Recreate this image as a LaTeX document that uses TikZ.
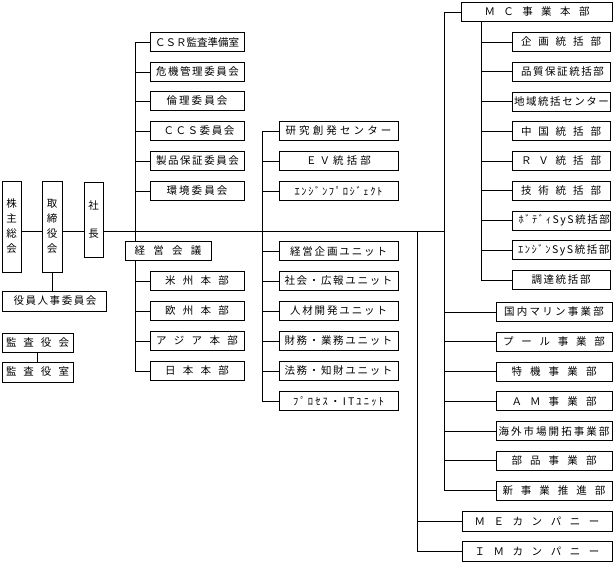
\documentclass[tikz,border=0pt]{standalone}
\usepackage{fontspec}
\setmainfont{Noto Sans CJK JP}
\newcommand\sx[2]{\makebox[#1pt][s]{#2}}
\tikzset{
  bx/.style={draw, line width=1pt, inner sep=0pt, minimum height=19pt, font=\fontsize{10.5}{13}\selectfont},
  lcol/.style={bx, minimum width=94pt},
  mcol/.style={bx, minimum width=119pt},
  scol/.style={bx, minimum width=98pt},
  dcol/.style={bx, minimum width=116pt},
  ln/.style={line width=1pt}
}
\begin{document}
\begin{tikzpicture}[x=1pt,y=-1pt]
\useasboundingbox (0,0) rectangle (614,563);
\coordinate (spine) at (0,231);
\coordinate (vL) at (135,0);
\coordinate (vM) at (262,0);
\coordinate (vR) at (444,0);
\coordinate (vRR) at (417,0);
\coordinate (vMC) at (481,0);

% left part
\node[bx, minimum width=19pt, minimum height=91pt, align=center, font=\fontsize{10.5}{15}\selectfont] (kabu) at (11.5,226.5) {株\\主\\総\\会};
\node[bx, minimum width=20pt, minimum height=91pt, align=center, font=\fontsize{10.5}{15}\selectfont] (tori) at (52,226.5) {取\\締\\役\\会};
\node[bx, minimum width=19pt, minimum height=75pt, align=center, font=\fontsize{10.5}{28}\selectfont] (sha) at (93.5,219.5) {社\\長};
\node[bx, minimum width=104pt, minimum height=20pt] (yakuin) at (54,301) {\sx{81}{役 員 人 事 委 員 会}};
\node[bx, minimum width=71pt] (ka1) at (37.5,342.5) {\sx{63}{監 査 役 会}};
\node[bx, minimum width=71pt, minimum height=20pt] (ka2) at (37.5,372) {\sx{63}{監 査 役 室}};

% committees
\node[lcol] (c1) at (197,42) {ＣＳＲ監査準備室};
\node[lcol] (c2) at (197,72) {\sx{82}{危 機 管 理 委 員 会}};
\node[lcol] (c3) at (197,101) {\sx{61}{倫 理 委 員 会}};
\node[lcol] (c4) at (197,131) {\sx{67}{Ｃ Ｃ Ｓ 委 員 会}};
\node[lcol] (c5) at (197,161) {\sx{82}{製 品 保 証 委 員 会}};
\node[lcol] (c6) at (197,191) {\sx{61}{環 境 委 員 会}};
\node[bx, minimum width=86pt] (keiei) at (168,251) {\sx{67}{経 営 会 議}};
\node[lcol] (r1) at (197,281) {\sx{64}{米 州 本 部}};
\node[lcol] (r2) at (197,311) {\sx{64}{欧 州 本 部}};
\node[lcol] (r3) at (197,341) {\sx{82}{ア ジ ア 本 部}};
\node[lcol] (r4) at (197,371) {\sx{64}{日 本 本 部}};

% middle column
\node[mcol] (m1) at (338.5,131) {\sx{106}{研 究 創 発 セ ン タ ー}};
\node[mcol] (m2) at (338.5,161) {\sx{65}{Ｅ Ｖ 統 括 部}};
\node[mcol] (m3) at (338.5,191) {\sx{88}{ｴ ﾝ ｼ ﾞ ﾝ ﾌ ﾟ ﾛ ｼ ﾞ ｪ ｸ ﾄ}};
\node[mcol] (m4) at (338.5,251) {\sx{97}{経 営 企 画 ユ ニ ッ ト}};
\node[mcol] (m5) at (338.5,281) {\sx{108}{社 会 ・ 広 報 ユ ニ ッ ト}};
\node[mcol] (m6) at (338.5,311) {\sx{97}{人 材 開 発 ユ ニ ッ ト}};
\node[mcol] (m7) at (338.5,341) {\sx{108}{財 務 ・ 業 務 ユ ニ ッ ト}};
\node[mcol] (m8) at (338.5,371) {\sx{108}{法 務 ・ 知 財 ユ ニ ッ ト}};
\node[mcol] (m9) at (338.5,401) {\sx{91}{ﾌ ﾟ ﾛ ｾ ｽ ・ I T ﾕ ﾆ ｯ ﾄ}};

% MC
\node[bx, minimum width=151pt] (mc) at (537,12) {\sx{105}{Ｍ Ｃ 事 業 本 部}};
\node[scol] (s1) at (561,42) {\sx{80}{企 画 統 括 部}};
\node[scol] (s2) at (561,71.75) {\sx{80}{品 質 保 証 統 括 部}};
\node[scol] (s3) at (561,101.5) {\sx{94}{地 域 統 括 セ ン タ ー}};
\node[scol] (s4) at (561,131.25) {\sx{80}{中 国 統 括 部}};
\node[scol] (s5) at (561,161) {\sx{80}{Ｒ Ｖ 統 括 部}};
\node[scol] (s6) at (561,190.75) {\sx{80}{技 術 統 括 部}};
\node[scol] (s7) at (561,220.5) {\sx{85}{ﾎ ﾞ ﾃ ﾞ ｨ S y S 統 括 部}};
\node[scol] (s8) at (561,250.25) {\sx{86}{ｴ ﾝ ｼ ﾞ ﾝ S y S 統 括 部}};
\node[scol] (s9) at (561,280) {\sx{59}{調 達 統 括 部}};

% divisions
\node[dcol] (d1) at (554,312) {\sx{100}{国 内 マ リ ン 事 業 部}};
\node[dcol] (d2) at (554,341.75) {\sx{102}{プ ー ル 事 業 部}};
\node[dcol] (d3) at (554,371.5) {\sx{85}{特 機 事 業 部}};
\node[dcol] (d4) at (554,401.25) {\sx{85}{Ａ Ｍ 事 業 部}};
\node[dcol] (d5) at (554,431) {\sx{111}{海 外 市 場 開 拓 事 業 部}};
\node[dcol] (d6) at (554,460.75) {\sx{85}{部 品 事 業 部}};
\node[dcol] (d7) at (554,490.5) {\sx{103}{新 事 業 推 進 部}};

\node[bx, minimum width=150pt, minimum height=20pt] (me) at (537,521) {\sx{125}{Ｍ Ｅ カ ン パ ニ ー}};
\node[bx, minimum width=150pt, minimum height=20pt] (im) at (537,551) {\sx{125}{Ｉ Ｍ カ ン パ ニ ー}};

% connectors
\draw[ln] (kabu.east |- spine) -- (tori.west |- spine);
\draw[ln] (tori.east |- spine) -- (sha.west |- spine);
\draw[ln] (sha.east |- spine) -- (vR |- spine);
\draw[ln] (tori.south) -- (tori.south |- yakuin.north);
\draw[ln] (ka1.south) -- (ka2.north);

\draw[ln] (vL |- c1.west) -- (vL |- keiei.north);
\foreach \n in {c1,c2,c3,c4,c5,c6} \draw[ln] (vL |- \n.west) -- (\n.west);
\draw[ln] (vL |- keiei.south) -- (vL |- r4.west);
\foreach \n in {r1,r2,r3,r4} \draw[ln] (vL |- \n.west) -- (\n.west);

\draw[ln] (vM |- m1.west) -- (vM |- m9.west);
\foreach \n in {m1,m2,m3,m4,m5,m6,m7,m8,m9} \draw[ln] (vM |- \n.west) -- (\n.west);

\draw[ln] (vR |- mc.west) -- (vR |- d7.west);
\foreach \n in {mc,d1,d2,d3,d4,d5,d6,d7} \draw[ln] (vR |- \n.west) -- (\n.west);
\draw[ln] (vMC |- mc.south) -- (vMC |- s9.west);
\foreach \n in {s1,s2,s3,s4,s5,s6,s7,s8,s9} \draw[ln] (vMC |- \n.west) -- (\n.west);

\draw[ln] (vRR |- spine) -- (vRR |- im.west);
\foreach \n in {me,im} \draw[ln] (vRR |- \n.west) -- (\n.west);
\end{tikzpicture}
\end{document}
